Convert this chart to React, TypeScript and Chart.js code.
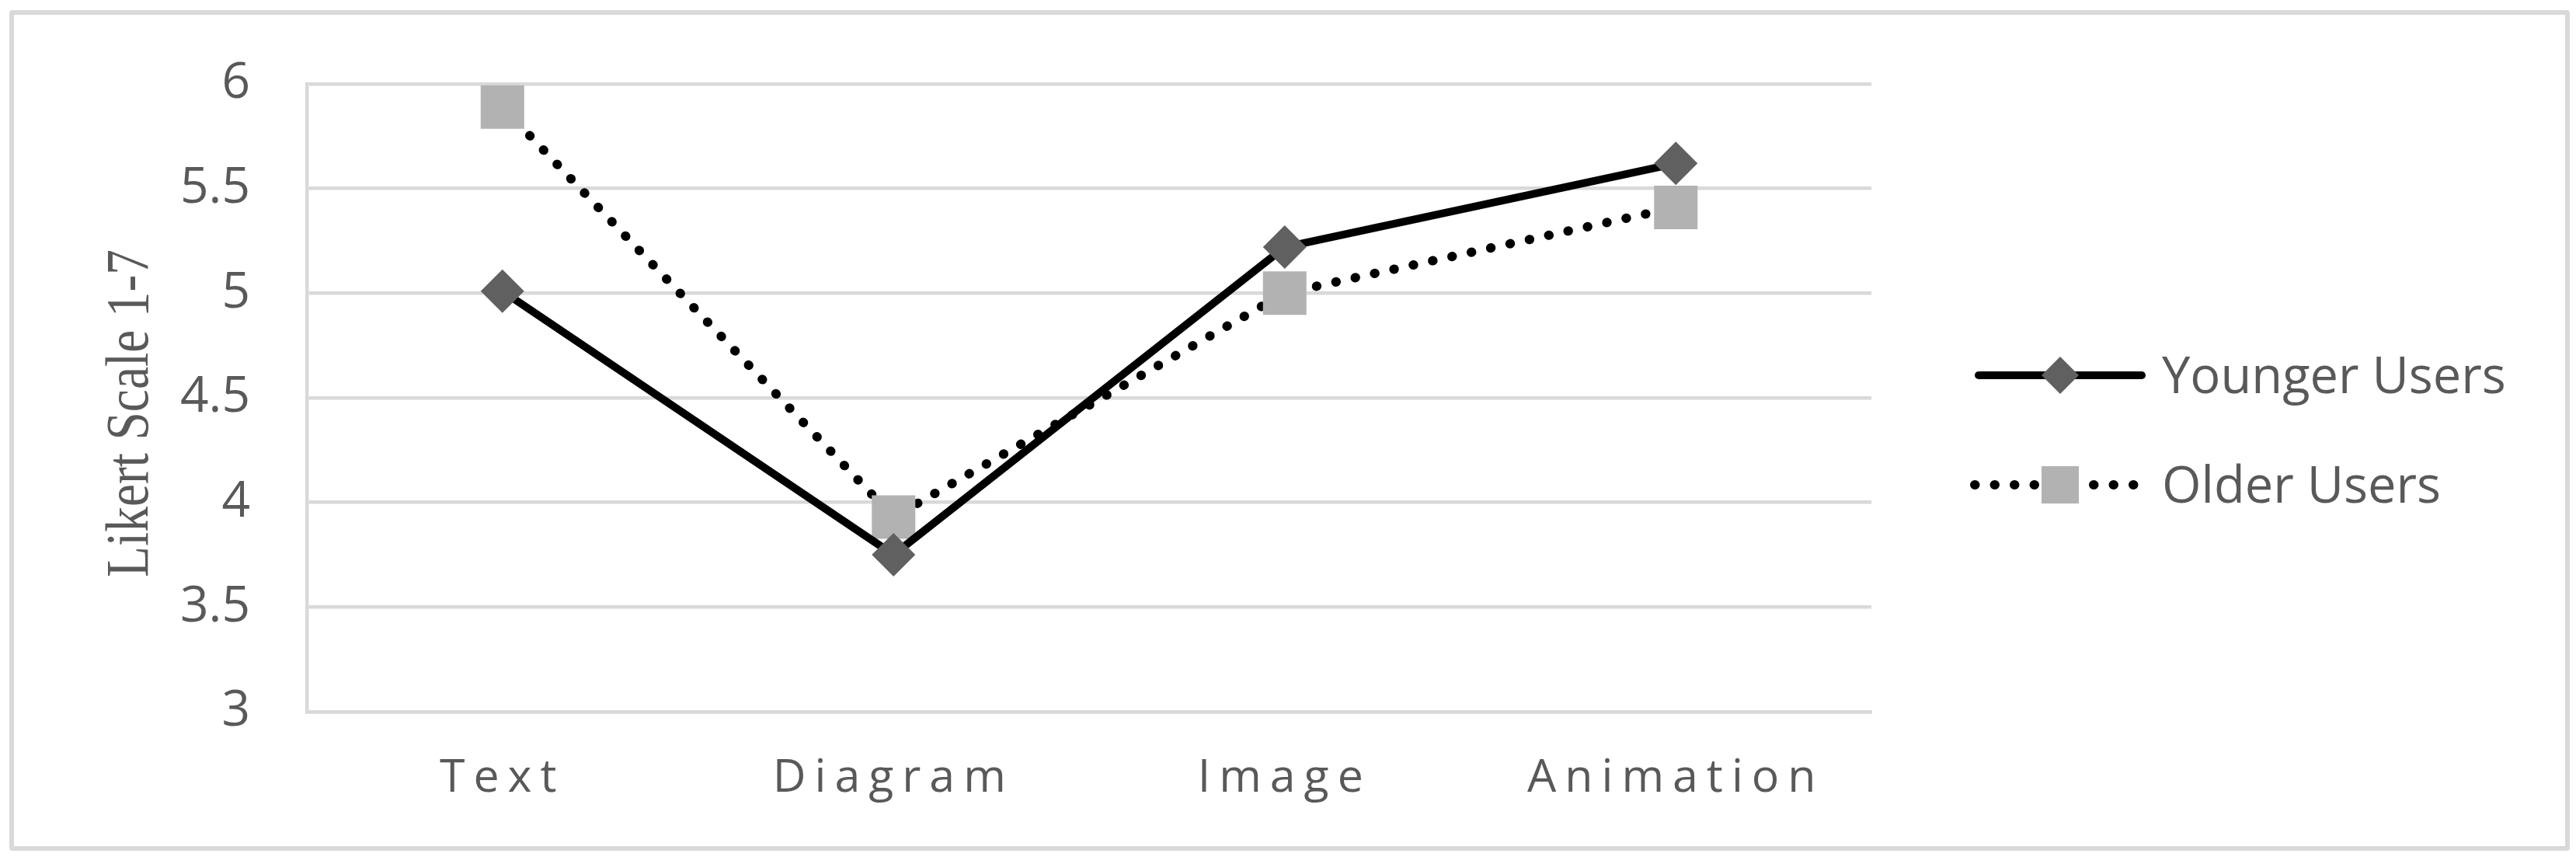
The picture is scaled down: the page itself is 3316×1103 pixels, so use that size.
import React, { useEffect, useRef } from 'react';
import { Chart, registerables, CategoryScale, LinearScale } from 'chart.js';
import { drawPoint } from 'chart.js/helpers';

// ---------- data ----------
const CATEGORIES = ['Text', 'Diagram', 'Image', 'Animation'];
const SERIES_NAMES = ['Younger Users', 'Older Users'];
const YOUNGER = [5.01, 3.75, 5.22, 5.62];
const OLDER = [5.89, 3.93, 5.0, 5.41];
const Y_MIN = 3;
const Y_MAX = 6;
const Y_STEP = 0.5;
const Y_TITLE = 'Likert Scale 1-7';

// ---------- style ----------
const W = 3284;
const H = 1070;
const TEXT_COLOR = '#595959';
const GRID_COLOR = '#d9d9d9';
const SANS = "'Open Sans', 'Noto Sans', sans-serif";
const SERIF = "'Liberation Serif', 'DejaVu Serif', serif";
const X_LETTER_SPACING = 11;
const Y_TITLE_SIZE = 78;
const Y_TITLE_CONDENSE = 0.84;
const Y_TITLE_BASELINE_X = 172;
const Y_TITLE_SHIFT = 20;
const LEGEND_FONT_SIZE = 65;
const LEGEND_LINE_X0 = 2524;
const LEGEND_LINE_X1 = 2744;
const LEGEND_ROW_Y0 = 464;
const LEGEND_ROW_GAP = 141;
const LEGEND_TEXT_X = 2765;

Chart.register(...registerables);

class SpacedCategoryScale extends CategoryScale {
  static id = 'spacedCategory';
  static defaults = {};
  drawLabels(chartArea: any) {
    const ctx: any = this.ctx;
    ctx.save();
    ctx.letterSpacing = X_LETTER_SPACING + 'px';
    super.drawLabels(chartArea);
    ctx.restore();
  }
}

class LikertScale extends LinearScale {
  static id = 'likertLinear';
  static defaults = {};
  drawTitle() {
    const title: any = (this.options as any).title;
    if (!title || !title.display) return;
    const ctx = this.ctx;
    ctx.save();
    ctx.translate(this.left + Y_TITLE_BASELINE_X, (this.top + this.bottom) / 2 + Y_TITLE_SHIFT);
    ctx.rotate(-Math.PI / 2);
    ctx.scale(Y_TITLE_CONDENSE, 1);
    ctx.font = `${Y_TITLE_SIZE}px ${SERIF}`;
    ctx.fillStyle = TEXT_COLOR;
    ctx.textAlign = 'center';
    ctx.textBaseline = 'alphabetic';
    ctx.fillText(title.text, 0, 0);
    ctx.restore();
  }
}

Chart.register(SpacedCategoryScale, LikertScale);

const legendPlugin = {
  id: 'lineMarkerLegend',
  afterDraw(chart: any) {
    const ctx: CanvasRenderingContext2D = chart.ctx;
    chart.data.datasets.forEach((ds: any, i: number) => {
      const y = LEGEND_ROW_Y0 + i * LEGEND_ROW_GAP;
      ctx.save();
      ctx.strokeStyle = ds.borderColor;
      ctx.lineWidth = ds.borderWidth;
      ctx.lineCap = 'round';
      ctx.setLineDash(ds.borderDash || []);
      ctx.beginPath();
      if (ds.borderDash) {
        ctx.moveTo(LEGEND_LINE_X0, y);
        ctx.lineTo(LEGEND_LINE_X1 - 10, y);
      } else {
        ctx.moveTo(LEGEND_LINE_X0 + 5, y);
        ctx.lineTo(LEGEND_LINE_X1 - 5, y);
      }
      ctx.stroke();
      ctx.setLineDash([]);
      ctx.fillStyle = ds.pointBackgroundColor;
      drawPoint(
        ctx,
        { pointStyle: ds.pointStyle, rotation: 0, radius: ds.legendRadius, borderWidth: 0 } as any,
        (LEGEND_LINE_X0 + LEGEND_LINE_X1) / 2,
        y
      );
      ctx.font = `${LEGEND_FONT_SIZE}px ${SANS}`;
      ctx.fillStyle = TEXT_COLOR;
      ctx.textAlign = 'left';
      ctx.textBaseline = 'alphabetic';
      ctx.fillText(ds.label, LEGEND_TEXT_X, y + 23);
      ctx.restore();
    });
  },
};

export default function App() {
  const ref = useRef<HTMLCanvasElement>(null);
  useEffect(() => {
    const chart = new Chart(ref.current as HTMLCanvasElement, {
      type: 'line',
      data: {
        labels: CATEGORIES,
        datasets: [
          {
            label: SERIES_NAMES[0],
            data: YOUNGER,
            borderColor: '#000000',
            borderWidth: 10,
            tension: 0,
            pointStyle: 'rectRot',
            pointRadius: 28,
            pointHoverRadius: 28,
            pointBackgroundColor: '#606060',
            pointBorderWidth: 0,
            legendRadius: 24,
            clip: false,
          } as any,
          {
            label: SERIES_NAMES[1],
            data: OLDER,
            borderColor: '#000000',
            borderWidth: 12,
            borderDash: [0.5, 25],
            borderCapStyle: 'round',
            tension: 0,
            pointStyle: 'rect',
            pointRadius: 39.6,
            pointHoverRadius: 39.6,
            pointBackgroundColor: '#b2b2b2',
            pointBorderWidth: 0,
            legendRadius: 34,
            clip: false,
          } as any,
        ],
      },
      options: {
        responsive: false,
        animation: false,
        events: [],
        layout: { padding: { top: 89, right: 893, bottom: 0, left: 0 } },
        plugins: {
          legend: { display: false },
          tooltip: { enabled: false },
          title: { display: false },
        },
        scales: {
          x: {
            type: 'spacedCategory' as any,
            offset: true,
            grid: { display: false, drawTicks: false },
            border: { display: true, color: GRID_COLOR, width: 4.5 },
            ticks: {
              color: TEXT_COLOR,
              font: { family: SANS, size: 59 },
              padding: 51,
              maxRotation: 0,
              autoSkip: false,
            },
            afterFit: (s: any) => {
              s.height = 173;
              s.paddingLeft = 0;
              s.paddingRight = 0;
            },
          },
          y: {
            type: 'likertLinear' as any,
            min: Y_MIN,
            max: Y_MAX,
            grid: { color: GRID_COLOR, lineWidth: 4.5, drawTicks: false },
            border: { display: true, color: GRID_COLOR, width: 4.5 },
            ticks: {
              stepSize: Y_STEP,
              color: TEXT_COLOR,
              font: { family: SANS, size: 64 },
              padding: 73,
              callback: (v: any) => String(v),
            },
            title: { display: true, text: Y_TITLE, color: TEXT_COLOR, font: { family: SERIF, size: Y_TITLE_SIZE } },
            afterFit: (s: any) => {
              s.width = 377;
              s.paddingTop = 0;
              s.paddingBottom = 0;
            },
          },
        },
      },
      plugins: [legendPlugin],
    });
    return () => chart.destroy();
  }, []);
  return (
    <div style={{ padding: '5px 0 0 4px' }}>
      <div style={{ width: W, height: H, border: `6px solid ${GRID_COLOR}`, borderRadius: 4 }}>
        <canvas ref={ref} width={W} height={H} style={{ display: 'block', width: W, height: H }} />
      </div>
    </div>
  );
}
